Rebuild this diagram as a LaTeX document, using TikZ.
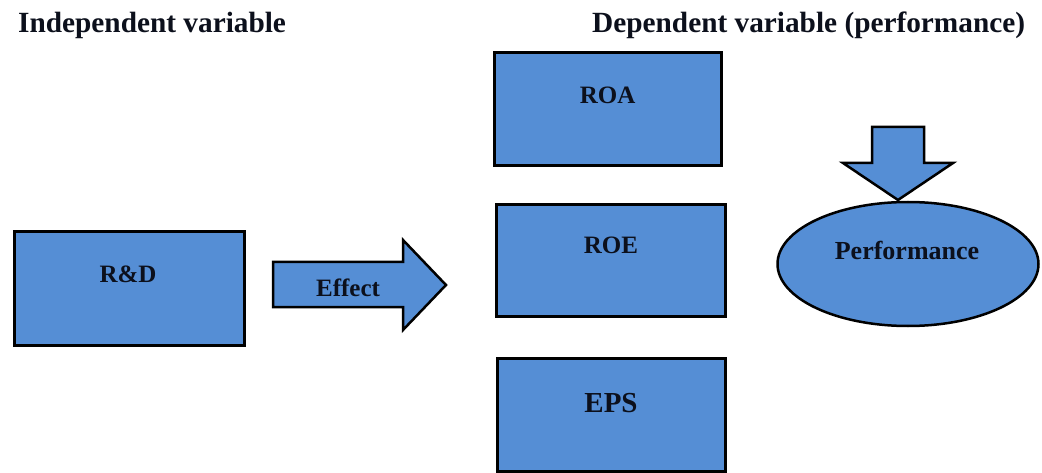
\documentclass[tikz,border=0pt]{standalone}
\usepackage{fontspec}
\setmainfont{Liberation Serif}
\definecolor{boxblue}{RGB}{85,142,213}
\definecolor{inkdark}{RGB}{12,16,28}
\begin{document}
\begin{tikzpicture}[x=1pt,y=-1pt,
  box/.style={draw=black, line width=3pt, fill=boxblue, inner sep=0pt, line join=miter},
  blockarrow/.style={draw=black, line width=2.5pt, fill=boxblue, line join=miter},
  lbl/.style={font=\bfseries\fontsize{25}{30}\selectfont, text=inkdark, anchor=base, inner sep=0pt},
  title/.style={font=\bfseries\fontsize{29.3}{35}\selectfont, text=inkdark, anchor=base west, inner sep=0pt}
]
\useasboundingbox (0,0) rectangle (1042,473);

% titles
\node[title] (indep) at (18,33) {Independent variable};
\node[title] (dep) at (592,33) {Dependent variable (performance)};

% boxes
\node[box, minimum width=230pt, minimum height=114pt] (rd) at (129.5,288.5) {};
\node[box, minimum width=227pt, minimum height=113pt] (roa) at (607.7,108.8) {};
\node[box, minimum width=229pt, minimum height=112pt] (roe) at (611,260.5) {};
\node[box, minimum width=228pt, minimum height=113pt] (eps) at (611.5,415) {};

% ellipse
\draw[blockarrow] (908,264) ellipse [x radius=130.5pt, y radius=62pt];
\coordinate (perfc) at (908,264);

% effect arrow
\draw[blockarrow] (273,262) -- (403,262) -- (403,240) -- (446,285) -- (403,330)
  -- (403,307) -- (273,307) -- cycle;

% down arrow
\draw[blockarrow] (872,127) -- (924,127) -- (924,163) -- (953,163) -- (898,200)
  -- (843,163) -- (872,163) -- cycle;

% labels
\node[lbl] (rdT) at (128,283) {R\&D};
\node[lbl] (effT) at (348,297) {Effect};
\node[lbl] (roaT) at (607.7,104) {ROA};
\node[lbl] (roeT) at (611,254) {ROE};
\node[lbl, font=\bfseries\fontsize{29}{34}\selectfont] (epsT) at (611,412) {EPS};
\node[lbl, font=\bfseries\fontsize{26}{31}\selectfont] (perfT) at (907,260) {Performance};
\end{tikzpicture}
\end{document}
